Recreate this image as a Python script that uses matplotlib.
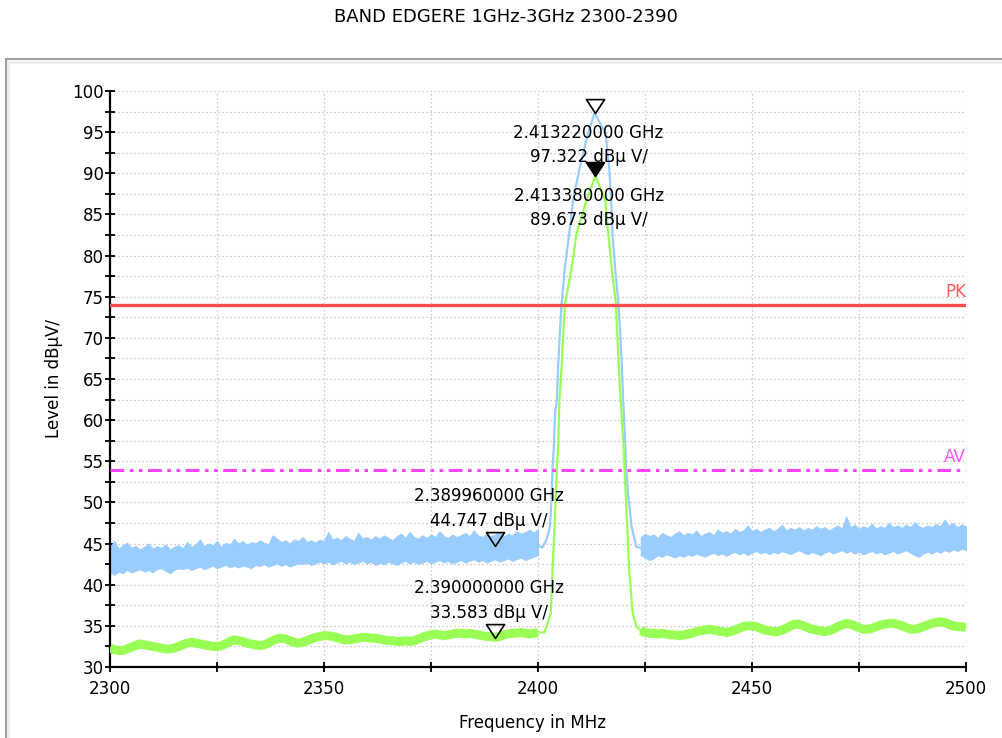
import numpy as np
import matplotlib
matplotlib.use("Agg")
import matplotlib.pyplot as plt
from matplotlib.path import Path
from matplotlib.patches import Rectangle
from matplotlib.ticker import MultipleLocator

# noise floor sampled every 1 MHz: 2300..2400 left of the carrier, 2424..2500 right of it
left_freq = np.arange(2300, 2401)
right_freq = np.arange(2424, 2501)

# PK trace (blue) floor, low / high edge of the noise band in dBuV
pk_left_lo = [41.5, 41.2, 41.6, 41.4, 41.8, 41.5, 41.7, 41.9, 41.6, 41.8,
              41.5, 41.9, 42.0, 41.7, 41.4, 41.8, 42.0, 41.9, 42.1, 41.8,
              42.0, 42.2, 41.9, 42.1, 42.3, 42.0, 42.2, 42.4, 42.1, 42.3,
              42.1, 42.3, 42.2, 42.0, 42.4, 42.3, 42.5, 42.2, 42.4, 42.6,
              42.3, 42.5, 42.2, 42.4, 42.6, 42.5, 42.7, 42.4, 42.6, 42.8,
              42.6, 42.8, 42.5, 42.7, 42.9, 42.6, 42.8, 42.5, 42.7, 42.9,
              42.6, 42.8, 42.4, 42.7, 42.5, 42.8, 42.6, 42.4, 42.7, 42.9,
              42.6, 42.8, 42.5, 42.7, 42.9, 42.6, 42.8, 43.0, 42.7, 42.9,
              42.6, 42.8, 43.0, 42.7, 42.9, 43.1, 42.8, 43.0, 42.7, 42.9,
              43.1, 42.8, 43.0, 43.2, 42.9, 43.1, 43.3, 43.0, 43.2, 43.4, 43.6]
pk_left_hi = [44.6, 45.3, 44.4, 44.8, 45.1, 44.5, 44.7, 44.3, 44.6, 45.0,
              44.4, 44.7, 44.5, 44.9, 44.3, 44.6, 44.8, 44.4, 45.2, 44.6,
              44.9, 45.5, 44.7, 45.0, 44.8, 45.3, 44.6, 45.1, 44.9, 45.6,
              45.0, 45.3, 44.8, 45.2, 45.0, 45.4, 45.1, 44.9, 46.0, 45.6,
              45.2, 45.4, 45.0, 45.5, 45.3, 45.8, 45.2, 45.4, 45.1, 45.5,
              45.3, 46.4, 45.5, 45.7, 45.4, 45.9, 45.6, 45.3, 46.3, 45.6,
              45.8, 45.5, 45.9, 45.6, 46.0, 45.7, 45.4, 45.9, 46.2, 45.7,
              46.4, 45.8, 45.6, 46.0, 45.7, 46.1, 45.8, 46.5, 45.9, 45.7,
              46.1, 45.8, 46.0, 46.3, 45.9, 46.6, 46.0, 45.8, 46.2, 45.9,
              46.1, 46.4, 45.9, 46.2, 46.0, 46.5, 46.2, 46.4, 46.7, 46.3, 46.8]
pk_right_lo = [43.6, 43.3, 43.0, 43.2, 43.6, 43.4, 43.7, 43.5, 43.3, 43.6,
               43.4, 43.7, 43.5, 43.8, 43.6, 43.4, 43.7, 43.9, 43.6, 43.8,
               43.5, 43.8, 44.0, 43.7, 43.9, 43.6, 43.9, 44.1, 43.8, 44.0,
               43.7, 44.0, 43.8, 44.1, 43.9, 43.7, 44.0, 44.2, 43.9, 43.7,
               44.0, 43.8, 43.6, 43.9, 44.1, 43.8, 44.0, 44.2, 43.9, 44.1,
               43.8, 44.0, 43.7, 43.9, 44.1, 43.8, 44.0, 43.7, 43.9, 44.1,
               43.8, 44.0, 44.2, 43.9, 43.6, 43.4, 43.8, 44.0, 43.8, 44.1,
               43.9, 44.2, 44.0, 44.3, 44.1, 44.4, 44.2]
pk_right_hi = [45.8, 46.2, 45.9, 46.1, 45.7, 46.3, 46.0, 45.8, 46.2, 46.5,
               46.0, 46.3, 46.1, 46.6, 45.9, 46.2, 46.4, 46.0, 46.7, 46.3,
               46.5, 46.2, 46.8, 46.4, 46.6, 47.2, 46.5, 46.8, 46.4, 46.7,
               46.9, 46.5, 46.8, 47.3, 46.6, 46.9, 46.7, 47.0, 46.6, 46.9,
               46.7, 47.1, 46.8, 47.0, 46.6, 46.9, 47.2, 46.8, 48.3, 47.0,
               47.3, 46.8, 47.1, 46.9, 47.4, 46.8, 47.1, 46.9, 47.5, 47.0,
               47.2, 46.9, 47.3, 47.0, 47.6, 47.1, 46.9, 47.2, 47.0, 47.4,
               47.1, 47.9, 47.2, 47.5, 47.0, 47.3, 47.1]

# PK trace around the carrier
pk_peak_freq = [2400.0, 2401.0, 2402.0, 2402.8, 2403.2, 2403.4, 2403.7, 2404.0, 2404.4,
                2404.7, 2405.1, 2405.5, 2406.3, 2407.3, 2408.2, 2409.8, 2411.7, 2413.2,
                2415.8, 2416.6, 2417.1, 2417.4, 2418.0, 2418.8, 2419.2, 2419.6, 2419.9,
                2420.3, 2420.6, 2421.1, 2421.9, 2423.0, 2424.0]
pk_peak_level = [44.8, 44.5, 45.5, 47.0, 50.7, 54.2, 56.7, 60.9, 62.4,
                 66.5, 70.6, 74.1, 78.6, 82.7, 86.8, 90.8, 94.9, 97.3,
                 94.9, 90.8, 86.8, 82.7, 78.6, 74.1, 70.6, 66.5, 62.4,
                 58.0, 54.2, 50.7, 47.0, 44.6, 44.5]

# AV trace (green) floor, centre of the trace
av_left = [32.3, 32.1, 32.0, 32.0, 32.2, 32.4, 32.6, 32.8, 32.7, 32.6,
           32.5, 32.4, 32.3, 32.2, 32.2, 32.3, 32.5, 32.7, 32.9, 33.0,
           32.9, 32.8, 32.7, 32.6, 32.5, 32.5, 32.6, 32.8, 33.1, 33.3,
           33.2, 33.1, 32.9, 32.8, 32.7, 32.6, 32.7, 32.9, 33.2, 33.4,
           33.5, 33.4, 33.2, 33.0, 32.9, 33.0, 33.2, 33.4, 33.6, 33.7,
           33.8, 33.8, 33.7, 33.6, 33.4, 33.3, 33.3, 33.4, 33.5, 33.6,
           33.6, 33.5, 33.5, 33.4, 33.3, 33.2, 33.2, 33.1, 33.1, 33.2,
           33.1, 33.2, 33.4, 33.6, 33.8, 33.9, 34.0, 33.9, 33.8, 33.9,
           34.0, 34.1, 34.1, 34.0, 34.1, 34.0, 33.9, 33.8, 33.7, 33.7,
           33.6, 33.7, 33.9, 34.0, 34.1, 34.1, 34.2, 34.1, 34.0, 34.1, 34.2]
av_right = [34.4, 34.2, 34.1, 34.1, 34.0, 34.1, 34.0, 33.9, 33.9, 33.8,
            33.9, 34.0, 34.1, 34.3, 34.4, 34.5, 34.6, 34.5, 34.4, 34.3,
            34.2, 34.3, 34.5, 34.7, 34.9, 35.0, 35.0, 34.9, 34.7, 34.5,
            34.4, 34.3, 34.3, 34.5, 34.7, 35.0, 35.2, 35.2, 35.0, 34.8,
            34.6, 34.5, 34.4, 34.3, 34.4, 34.6, 34.9, 35.1, 35.3, 35.2,
            35.0, 34.8, 34.6, 34.6, 34.7, 34.9, 35.1, 35.2, 35.3, 35.3,
            35.2, 35.0, 34.8, 34.6, 34.6, 34.7, 34.9, 35.1, 35.3, 35.4,
            35.5, 35.4, 35.2, 35.0, 34.9, 34.9, 34.8]

av_peak_freq = [2400.5, 2401.5, 2402.0, 2403.0, 2403.4, 2404.0, 2404.4, 2404.7, 2405.0,
                2405.5, 2405.9, 2406.3, 2407.9, 2409.0, 2411.4, 2413.4, 2415.7, 2416.4,
                2417.2, 2418.2, 2418.5, 2418.9, 2419.3, 2420.0, 2420.2, 2420.7, 2421.3,
                2422.1, 2423.0, 2424.0]
av_peak_level = [34.2, 34.2, 34.9, 36.6, 41.8, 48.7, 54.2, 56.7, 62.4,
                 66.5, 70.6, 74.1, 78.6, 82.7, 86.8, 89.7, 86.8, 82.7,
                 78.6, 74.1, 70.6, 66.5, 62.4, 56.7, 54.2, 48.7, 41.8,
                 36.6, 34.9, 34.4]

# limit lines
limit_names = ["PK", "AV"]
limit_levels = [74, 54]

# markers (MHz, dBuV)
marker_freq = [2413.22, 2413.38, 2389.96, 2390.00]
marker_level = [97.322, 89.673, 44.747, 33.583]
marker_filled = [False, True, False, False]
marker_text_below = [True, True, False, False]

blue = "#99ccff"
green = "#99ff55"

fig = plt.figure(figsize=(10.03, 7.38), dpi=100)
ax = fig.add_axes([110 / 1003, 71 / 738, 856 / 1003, 576 / 738])

# gray frame of the plot window
fig.patches.append(Rectangle((6 / 1003, -0.1), 1.1, 1.0 - 59 / 738 + 0.1,
                             transform=fig.transFigure, fill=False,
                             edgecolor="#a0a0a0", lw=1.5, clip_on=False))
fig.patches.append(Rectangle((8.5 / 1003, -0.1), 1.1, 1.0 - 61.5 / 738 + 0.1,
                             transform=fig.transFigure, fill=False,
                             edgecolor="#ececec", lw=2, clip_on=False))

ax.fill_between(left_freq, pk_left_lo, pk_left_hi, color=blue, lw=0.7, zorder=2)
ax.fill_between(right_freq, pk_right_lo, pk_right_hi, color=blue, lw=0.7, zorder=2)
ax.plot(pk_peak_freq, pk_peak_level, color=blue, lw=1.6, zorder=2)

ax.plot(left_freq, av_left, color=green, lw=6.5, solid_capstyle="butt", zorder=3)
ax.plot(right_freq, av_right, color=green, lw=6.5, solid_capstyle="butt", zorder=3)
ax.plot(av_peak_freq, av_peak_level, color=green, lw=1.6, zorder=3)

ax.axhline(limit_levels[0], color="#ff4d4d", lw=2.4, zorder=4)
ax.axhline(limit_levels[1], color="#ff44ff", lw=2.2, zorder=4,
           linestyle=(0, (4.5, 1.8, 1.2, 1.8, 1.2, 1.8)))
ax.annotate(limit_names[0], (2500, limit_levels[0]), xytext=(0, 4), textcoords="offset pixels",
            ha="right", va="bottom", color="#ff5a5a", fontsize=12, zorder=5)
ax.annotate(limit_names[1], (2500, limit_levels[1]), xytext=(0, 4), textcoords="offset pixels",
            ha="right", va="bottom", color="#ff55ff", fontsize=12, zorder=5)

tri = Path([(-0.65, 1.0), (0.65, 1.0), (0.0, 0.0), (-0.65, 1.0)],
           [Path.MOVETO, Path.LINETO, Path.LINETO, Path.CLOSEPOLY])
for f, lvl, filled, below in zip(marker_freq, marker_level, marker_filled, marker_text_below):
    ax.plot([f], [lvl], marker=tri, ms=20, mec="black", mew=1.2,
            mfc="black" if filled else "none", zorder=6)
    line1 = "%.9f GHz" % (f / 1000.0)
    line2 = "%.3f dBµ V/" % lvl
    if below:
        off1, off2 = -20, -44
    else:
        off1, off2 = 50, 25
    ax.annotate(line1, (f, lvl), xytext=(-6, off1), textcoords="offset pixels",
                ha="center", va="center", fontsize=12, zorder=7)
    ax.annotate(line2, (f, lvl), xytext=(-6, off2), textcoords="offset pixels",
                ha="center", va="center", fontsize=12, zorder=7)

ax.set_xlim(2300, 2500)
ax.set_ylim(30, 100)
ax.xaxis.set_major_locator(MultipleLocator(50))
ax.xaxis.set_minor_locator(MultipleLocator(25))
ax.yaxis.set_major_locator(MultipleLocator(5))
ax.yaxis.set_minor_locator(MultipleLocator(2.5))
ax.grid(True, which="both", color="#b8b8b8", lw=0.9, linestyle=(0, (1, 2.2)), zorder=0)
ax.set_axisbelow(True)
ax.tick_params(which="both", direction="inout", length=7, width=1.3, color="black",
               labelsize=12, top=False, right=False)
ax.tick_params(axis="x", which="both", pad=6)
ax.tick_params(axis="y", which="both", pad=1)
for side in ["top", "right"]:
    ax.spines[side].set_visible(False)
for side in ["left", "bottom"]:
    ax.spines[side].set_linewidth(1.6)

ax.set_xlabel("Frequency in MHz", fontsize=12)
ax.set_ylabel("Level in dBµV/", fontsize=12)
ax.xaxis.set_label_coords(0.494, -0.081)
ax.yaxis.set_label_coords(-0.055, 0.5)

fig.text(0.504, 1 - 17 / 738, "BAND EDGERE 1GHz-3GHz 2300-2390", ha="center", va="center",
         fontsize=13)

fig.savefig("out.png", dpi=100)
